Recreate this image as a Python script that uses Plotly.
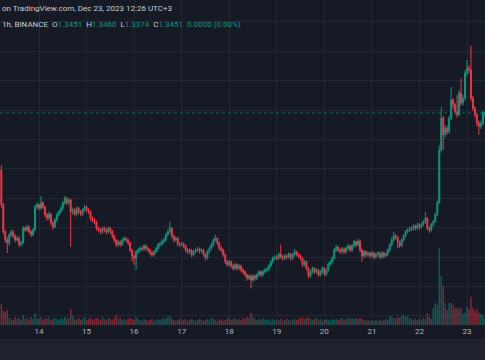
import pandas as pd
import plotly.graph_objects as go

# ---- data (1h candles, Dec 13 05:00 UTC .. Dec 23 09:00 UTC) ----
start_time = "2023-12-13 05:00"
first_open = 1.248
closes = [1.189,1.143,1.129,1.124,1.138,1.143,1.136,1.129,1.132,1.121,
 1.124,1.149,1.146,1.151,1.143,1.138,1.146,1.185,1.189,1.183,
 1.192,1.185,1.172,1.166,1.173,1.158,1.151,1.163,1.172,1.177,
 1.183,1.192,1.200,1.192,1.197,1.177,1.180,1.173,1.183,1.177,
 1.173,1.180,1.185,1.180,1.177,1.166,1.163,1.160,1.149,1.146,
 1.143,1.149,1.146,1.143,1.149,1.144,1.136,1.129,1.121,1.126,
 1.121,1.129,1.132,1.129,1.124,1.112,1.102,1.098,1.109,1.112,
 1.115,1.114,1.119,1.115,1.112,1.107,1.104,1.109,1.114,1.121,
 1.122,1.126,1.129,1.138,1.143,1.149,1.136,1.129,1.132,1.122,
 1.121,1.122,1.119,1.112,1.109,1.112,1.104,1.109,1.112,1.114,
 1.110,1.112,1.105,1.098,1.109,1.115,1.121,1.129,1.132,1.124,
 1.115,1.112,1.104,1.092,1.087,1.092,1.085,1.081,1.087,1.081,
 1.085,1.078,1.075,1.070,1.064,1.068,1.061,1.068,1.064,1.070,
 1.075,1.070,1.075,1.078,1.079,1.085,1.092,1.098,1.100,1.098,
 1.105,1.100,1.098,1.102,1.100,1.105,1.098,1.104,1.109,1.105,
 1.102,1.098,1.087,1.092,1.081,1.068,1.075,1.081,1.075,1.078,
 1.070,1.075,1.081,1.071,1.078,1.088,1.092,1.098,1.112,1.117,
 1.112,1.109,1.114,1.109,1.115,1.119,1.112,1.119,1.126,1.121,
 1.127,1.112,1.102,1.109,1.104,1.107,1.102,1.107,1.100,1.104,
 1.107,1.100,1.107,1.102,1.105,1.112,1.121,1.129,1.136,1.134,
 1.126,1.119,1.129,1.136,1.143,1.146,1.149,1.148,1.153,1.149,
 1.155,1.151,1.156,1.160,1.166,1.149,1.146,1.155,1.160,1.172,
 1.192,1.282,1.336,1.308,1.319,1.313,1.336,1.367,1.359,1.347,
 1.342,1.379,1.362,1.370,1.413,1.421,1.418,1.370,1.353,1.342,
 1.328,1.322,1.327,1.3451,1.3451]
highs = [1.256,1.192,1.146,1.134,1.141,1.147,1.146,1.139,1.136,1.135,
 1.128,1.153,1.152,1.155,1.154,1.146,1.149,1.189,1.193,1.191,
 1.204,1.195,1.187,1.175,1.177,1.175,1.161,1.166,1.175,1.180,
 1.186,1.195,1.204,1.202,1.200,1.199,1.184,1.183,1.186,1.185,
 1.180,1.183,1.189,1.187,1.183,1.179,1.169,1.166,1.162,1.152,
 1.149,1.152,1.152,1.149,1.152,1.151,1.146,1.138,1.131,1.129,
 1.128,1.132,1.135,1.134,1.131,1.126,1.114,1.105,1.112,1.115,
 1.118,1.118,1.122,1.121,1.117,1.114,1.110,1.112,1.117,1.124,
 1.126,1.130,1.133,1.141,1.147,1.160,1.151,1.138,1.135,1.134,
 1.125,1.126,1.125,1.121,1.115,1.115,1.114,1.112,1.115,1.117,
 1.116,1.115,1.114,1.107,1.112,1.118,1.124,1.132,1.138,1.134,
 1.126,1.118,1.114,1.106,1.095,1.095,1.094,1.088,1.090,1.089,
 1.088,1.087,1.081,1.077,1.072,1.071,1.070,1.071,1.070,1.073,
 1.078,1.077,1.078,1.081,1.083,1.088,1.095,1.101,1.104,1.103,
 1.108,1.121,1.103,1.105,1.105,1.108,1.107,1.107,1.114,1.111,
 1.107,1.104,1.100,1.095,1.094,1.083,1.078,1.084,1.083,1.081,
 1.080,1.078,1.084,1.083,1.081,1.091,1.095,1.101,1.115,1.121,
 1.119,1.115,1.117,1.116,1.118,1.122,1.121,1.122,1.129,1.128,
 1.131,1.129,1.114,1.112,1.111,1.110,1.109,1.110,1.109,1.107,
 1.110,1.109,1.110,1.109,1.108,1.115,1.124,1.133,1.143,1.139,
 1.136,1.128,1.132,1.139,1.146,1.149,1.152,1.152,1.156,1.155,
 1.158,1.157,1.159,1.163,1.177,1.168,1.152,1.158,1.163,1.175,
 1.196,1.290,1.355,1.340,1.324,1.323,1.340,1.389,1.370,1.362,
 1.375,1.384,1.404,1.376,1.418,1.435,1.426,1.459,1.374,1.356,
 1.345,1.332,1.332,1.349,1.3460]
lows = [1.184,1.139,1.124,1.107,1.119,1.134,1.132,1.125,1.126,1.117,
 1.118,1.122,1.142,1.143,1.140,1.134,1.135,1.144,1.181,1.179,
 1.180,1.182,1.168,1.162,1.163,1.154,1.147,1.149,1.160,1.169,
 1.174,1.180,1.189,1.188,1.189,1.117,1.172,1.169,1.170,1.173,
 1.169,1.170,1.177,1.176,1.173,1.162,1.159,1.156,1.145,1.142,
 1.139,1.140,1.142,1.139,1.140,1.140,1.132,1.125,1.117,1.118,
 1.117,1.119,1.126,1.125,1.120,1.108,1.092,1.087,1.078,1.105,
 1.109,1.110,1.111,1.111,1.108,1.103,1.100,1.101,1.106,1.111,
 1.117,1.119,1.123,1.126,1.135,1.140,1.132,1.125,1.126,1.118,
 1.117,1.118,1.115,1.108,1.105,1.106,1.100,1.101,1.106,1.109,
 1.106,1.107,1.101,1.094,1.096,1.106,1.112,1.118,1.126,1.120,
 1.111,1.108,1.100,1.088,1.083,1.084,1.081,1.077,1.078,1.077,
 1.078,1.074,1.071,1.066,1.060,1.061,1.047,1.058,1.060,1.061,
 1.067,1.066,1.067,1.072,1.074,1.076,1.082,1.089,1.095,1.094,
 1.095,1.097,1.094,1.095,1.096,1.097,1.094,1.095,1.101,1.101,
 1.098,1.094,1.083,1.084,1.077,1.064,1.065,1.072,1.071,1.072,
 1.066,1.067,1.072,1.067,1.068,1.075,1.085,1.089,1.095,1.109,
 1.108,1.105,1.106,1.105,1.106,1.112,1.108,1.109,1.116,1.117,
 1.118,1.108,1.092,1.099,1.100,1.101,1.098,1.099,1.096,1.097,
 1.101,1.096,1.097,1.098,1.099,1.102,1.109,1.118,1.126,1.130,
 1.115,1.115,1.117,1.126,1.133,1.140,1.143,1.144,1.145,1.145,
 1.146,1.147,1.148,1.153,1.157,1.145,1.141,1.143,1.152,1.158,
 1.170,1.190,1.278,1.282,1.303,1.308,1.310,1.333,1.352,1.342,
 1.337,1.340,1.357,1.358,1.366,1.408,1.412,1.365,1.348,1.337,
 1.322,1.308,1.318,1.324,1.3374]
volumes = [21,14,13,15,7,6,5,8,6,7,
 5,10,6,7,5,8,6,12,7,6,
 8,5,7,6,8,5,6,7,6,5,
 7,6,8,6,7,16,9,6,5,7,
 5,6,8,5,6,7,5,6,7,6,
 5,8,6,5,7,6,5,7,10,6,
 7,5,6,5,6,7,6,5,8,6,
 5,4,6,5,4,5,6,4,5,6,
 5,6,7,6,8,9,6,5,4,5,
 6,4,5,6,4,5,6,5,4,5,
 6,5,4,5,6,5,7,6,5,4,
 5,6,4,5,6,7,5,6,7,5,
 6,5,7,6,8,7,12,8,6,5,
 6,5,7,5,6,5,4,6,5,4,
 5,6,4,5,6,5,4,5,6,5,
 6,7,8,6,7,8,6,5,6,7,
 5,6,4,5,6,5,4,6,5,6,
 5,6,7,5,6,7,6,7,6,7,
 6,7,6,5,4,5,4,5,4,5,
 4,5,4,5,6,5,9,8,7,6,
 8,7,9,10,8,9,7,6,5,6,
 5,6,5,7,6,12,8,6,17,22,
 20,77,49,39,22,15,22,22,20,17,
 17,16,17,11,12,19,16,28,17,14,
 16,12,11,10,6]
day_ticks = ["2023-12-14","2023-12-15","2023-12-16","2023-12-17","2023-12-18",
             "2023-12-19","2023-12-20","2023-12-21","2023-12-22","2023-12-23"]
day_labels = ["14","15","16","17","18","19","20","21","22","23"]
last_price = 1.3451
header_line1 = "on TradingView.com, Dec 23, 2023 12:26 UTC+3"
header_line2 = ("1h, BINANCE  O<span style='color:#089981'>1.3451</span>  "
                "H<span style='color:#089981'>1.3460</span>  "
                "L<span style='color:#089981'>1.3374</span>  "
                "C<span style='color:#089981'>1.3451</span>  "
                "<span style='color:#089981'>0.0000 (0.00%)</span>")

# ---- styling ----
BG = "#161a25"
GRID = "#232733"
UP = "#089981"
DOWN = "#f23645"
TEXT = "#b2b5be"

times = pd.date_range(start_time, periods=len(closes), freq="h")
opens = [first_open] + closes[:-1]
vol_colors = ["rgba(8,153,129,0.5)" if c >= o else "rgba(242,54,69,0.5)"
              for o, c in zip(opens, closes)]

fig = go.Figure()
fig.add_trace(go.Bar(x=times, y=volumes, marker_color=vol_colors, marker_line_width=0,
                     yaxis="y2", hoverinfo="skip", showlegend=False))
fig.add_trace(go.Candlestick(
    x=times, open=opens, high=highs, low=lows, close=closes,
    increasing=dict(line=dict(color=UP, width=1), fillcolor=UP),
    decreasing=dict(line=dict(color=DOWN, width=1), fillcolor=DOWN),
    hoverinfo="skip", showlegend=False))

H_PLOT = 325
def py(Y):
    return (H_PLOT - Y) / H_PLOT

fig.update_layout(
    width=485, height=360,
    margin=dict(l=0, r=0, t=0, b=35),
    paper_bgcolor=BG, plot_bgcolor=BG,
    bargap=0.25,
    hovermode=False,
    dragmode=False,
    font=dict(family="Roboto, Liberation Sans, sans-serif", color=TEXT, size=8),
    xaxis=dict(range=["2023-12-13 04:19:12", "2023-12-23 09:05:00"],
               rangeslider=dict(visible=False),
               tickmode="array", tickvals=day_ticks, ticktext=day_labels,
               showgrid=True, gridcolor=GRID, gridwidth=1,
               zeroline=False, showline=False, ticks="",
               tickfont=dict(size=8, color=TEXT)),
    yaxis=dict(range=[0.9845, 1.537], showticklabels=False, showgrid=True,
               gridcolor=GRID, tick0=0, dtick=0.05, zeroline=False, fixedrange=True),
    yaxis2=dict(overlaying="y", range=[0, 325], showticklabels=False,
                showgrid=False, zeroline=False),
    shapes=[
        dict(type="line", xref="paper", yref="y", x0=0, x1=1, y0=last_price, y1=last_price,
             line=dict(color=UP, width=1, dash="dot"), opacity=0.6),
        dict(type="rect", xref="paper", yref="paper", x0=0, x1=1,
             y0=py(360), y1=py(339), fillcolor="#1f222d", line=dict(width=0), layer="below"),
    ],
    annotations=[
        dict(xref="paper", yref="paper", x=0.0, y=py(2), xanchor="left", yanchor="top",
             showarrow=False, text=header_line1, font=dict(size=8, color="#c8cbd3")),
        dict(xref="paper", yref="paper", x=0.0, y=py(18), xanchor="left", yanchor="top",
             showarrow=False, text=header_line2, font=dict(size=8, color="#c8cbd3")),
    ],
)

fig.write_html("out.html",
               config={"displayModeBar": False, "staticPlot": True},
               post_script="document.body.style.margin='0';document.body.style.background='" + BG + "';")
